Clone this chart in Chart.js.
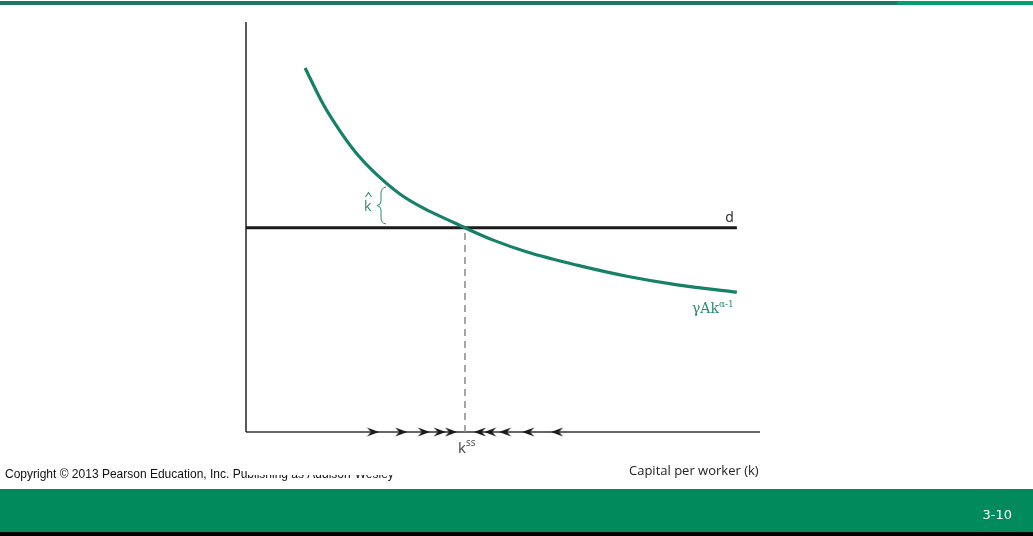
<!DOCTYPE html>
<html>
<head>
<meta charset="utf-8">
<script src="https://cdn.jsdelivr.net/npm/chart.js@4"></script>
<style>
  html, body { margin: 0; padding: 0; background: #fff; }
  #wrap { position: relative; width: 1033px; height: 536px; overflow: hidden; }
  canvas { position: absolute; left: 0; top: 0; }
</style>
</head>
<body>
<div id="wrap"><canvas id="growthChart" width="1033" height="536"></canvas></div>
<script>
// capital per worker (k) and the return curve gamma*A*k^(alpha-1)
const kValues = [1.15, 1.50, 1.83, 2.16, 2.55, 3.00, 3.48, 3.97, 4.26, 4.81, 5.47, 6.44, 7.41, 8.39, 9.55];
const returnValues = [8.88, 8.00, 7.34, 6.78, 6.27, 5.80, 5.44, 5.15, 4.98, 4.68, 4.39, 4.07, 3.80, 3.59, 3.41];
const depRate = 4.98;     // the flat d line
const kSteady = 4.26;     // k^ss
const kEnd = 9.55;
const axisMaxX = 10;
const axisMaxY = 10;
// arrows along the k axis, pointing toward k^ss
const rightArrows = [2.47, 3.02, 3.46, 3.77, 3.99];
const leftArrows = [4.55, 4.75, 5.04, 5.49, 6.05];

const green = '#168068';
const labelGreen = '#2b8c70';

// arrowhead images for the point style
function makeArrow(dir) {
    const c = document.createElement('canvas');
    c.width = 13;
    c.height = 10;
    const g = c.getContext('2d');
    g.fillStyle = '#1a1a1a';
    g.beginPath();
    if (dir > 0) {
        g.moveTo(12.5, 5); g.lineTo(0.5, 0.5); g.lineTo(4.5, 5); g.lineTo(0.5, 9.5);
    } else {
        g.moveTo(0.5, 5); g.lineTo(12.5, 0.5); g.lineTo(8.5, 5); g.lineTo(12.5, 9.5);
    }
    g.closePath();
    g.fill();
    return c;
}

// slide frame and all the text labels
const slidePlugin = {
    id: 'slide',
    beforeDraw(chart) {
        const ctx = chart.ctx;
        ctx.save();
        ctx.fillStyle = '#1f7566';
        ctx.fillRect(0, 1, 897, 4);
        ctx.fillStyle = '#00a070';
        ctx.fillRect(897, 1, 136, 4);
        ctx.fillStyle = '#018a5b';
        ctx.fillRect(0, 489, 1033, 43);
        ctx.fillStyle = '#000';
        ctx.fillRect(0, 532, 1033, 4);
        ctx.restore();
    },
    afterDraw(chart) {
        const ctx = chart.ctx;
        const x = chart.scales.x, y = chart.scales.y;
        ctx.save();
        ctx.textBaseline = 'alphabetic';

        // d label
        ctx.fillStyle = '#222';
        ctx.font = '14px "Open Sans"';
        ctx.textAlign = 'right';
        ctx.fillText('d', x.getPixelForValue(kEnd) - 3, y.getPixelForValue(depRate) - 6);

        // gamma A k^(alpha-1)
        ctx.fillStyle = labelGreen;
        ctx.textAlign = 'left';
        ctx.font = '14px "DejaVu Serif"';
        const gx = 692, gy = 313;
        ctx.fillText('γAk', gx, gy);
        const w = ctx.measureText('γAk').width;
        ctx.font = '9px "DejaVu Serif"';
        ctx.fillText('α-1', gx + w, gy - 6);

        // k hat and brace
        ctx.font = '14px "Open Sans"';
        ctx.fillText('k', 364, 211);
        ctx.strokeStyle = labelGreen;
        ctx.lineWidth = 1.1;
        ctx.beginPath();
        ctx.moveTo(365.5, 197);
        ctx.lineTo(368.5, 192.5);
        ctx.lineTo(371.5, 197);
        ctx.stroke();
        ctx.lineWidth = 1;
        ctx.beginPath();
        ctx.moveTo(386, 187);
        ctx.quadraticCurveTo(381, 188, 381, 193);
        ctx.lineTo(381, 201);
        ctx.quadraticCurveTo(381, 205, 377, 205.5);
        ctx.quadraticCurveTo(381, 206, 381, 210);
        ctx.lineTo(381, 218);
        ctx.quadraticCurveTo(381, 223, 386, 224);
        ctx.stroke();

        // k^ss
        ctx.fillStyle = '#444';
        ctx.font = '15px "Open Sans"';
        const kx = x.getPixelForValue(kSteady) - 7;
        ctx.fillText('k', kx, 453);
        ctx.font = '10px "Open Sans"';
        ctx.fillText('ss', kx + 8, 446);

        // axis title
        ctx.fillStyle = '#222';
        ctx.font = '13px "Open Sans"';
        ctx.fillText('Capital per worker (k)', 629, 475);

        // copyright, the tail of it is cut off in the slide
        ctx.fillStyle = '#111';
        ctx.font = '12px "Liberation Sans"';
        const head = 'Copyright © 2013 Pearson Education, Inc. Pu';
        ctx.fillText(head, 5, 478);
        const hw = ctx.measureText(head).width;
        ctx.save();
        ctx.beginPath();
        ctx.rect(5 + hw, 475, 200, 10);
        ctx.clip();
        ctx.fillText('blishing as Addison-Wesley', 5 + hw, 478);
        ctx.restore();

        // page number
        ctx.fillStyle = '#fff';
        ctx.font = '13px "DejaVu Sans"';
        ctx.textAlign = 'right';
        ctx.fillText('3-10', 1012, 519);
        ctx.restore();
    }
};

function createChart() {
    const ctx = document.getElementById('growthChart').getContext('2d');
    const curve = kValues.map((k, i) => ({ x: k, y: returnValues[i] }));
    const arrowY = rightArrows.map(k => ({ x: k, y: 0 }));
    const arrowYLeft = leftArrows.map(k => ({ x: k, y: 0 }));

    new Chart(ctx, {
        type: 'scatter',
        data: {
            datasets: [
                {
                    label: 'return',
                    data: curve,
                    showLine: true,
                    borderColor: green,
                    borderWidth: 3.2,
                    pointRadius: 0,
                    cubicInterpolationMode: 'monotone',
                    order: 1
                },
                {
                    label: 'd',
                    data: [{ x: 0, y: depRate }, { x: kEnd, y: depRate }],
                    showLine: true,
                    borderColor: '#1a1a1a',
                    borderWidth: 3,
                    pointRadius: 0,
                    order: 2
                },
                {
                    label: 'kss',
                    data: [{ x: kSteady, y: 0 }, { x: kSteady, y: depRate }],
                    showLine: true,
                    borderColor: '#8a8a8a',
                    borderWidth: 1.5,
                    borderDash: [7, 5],
                    pointRadius: 0,
                    order: 3
                },
                {
                    label: 'y axis',
                    data: [{ x: 0, y: 0 }, { x: 0, y: axisMaxY }],
                    showLine: true,
                    borderColor: '#222',
                    borderWidth: 1.5,
                    pointRadius: 0,
                    order: 4
                },
                {
                    label: 'x axis',
                    data: [{ x: 0, y: 0 }, { x: axisMaxX, y: 0 }],
                    showLine: true,
                    borderColor: '#333',
                    borderWidth: 1.5,
                    pointRadius: 0,
                    order: 4
                },
                {
                    label: 'right arrows',
                    data: arrowY,
                    pointStyle: makeArrow(1),
                    pointRadius: 6,
                    order: 0
                },
                {
                    label: 'left arrows',
                    data: arrowYLeft,
                    pointStyle: makeArrow(-1),
                    pointRadius: 6,
                    order: 0
                }
            ]
        },
        options: {
            responsive: false,
            animation: false,
            layout: { padding: { left: 246, right: 273, top: 22, bottom: 104 } },
            plugins: { legend: { display: false }, tooltip: { enabled: false } },
            scales: {
                x: { type: 'linear', min: 0, max: axisMaxX, display: false },
                y: { type: 'linear', min: 0, max: axisMaxY, display: false }
            },
            clip: false
        },
        plugins: [slidePlugin]
    });
}

document.addEventListener('DOMContentLoaded', createChart);
</script>
</body>
</html>
